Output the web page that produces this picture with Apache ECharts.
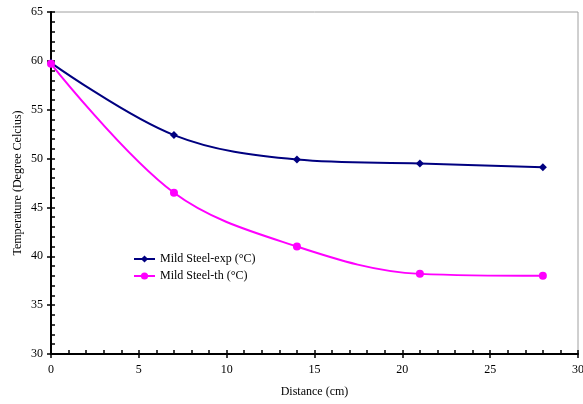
<!DOCTYPE html>
<html><head><meta charset="utf-8">
<script src="https://cdn.jsdelivr.net/npm/echarts@6/dist/echarts.min.js"></script>
<style>html,body{margin:0;padding:0;background:#fff}#c{width:583px;height:404px}</style>
</head><body><div id="c"></div>
<script>
const distance = [0, 7, 14, 21, 28];
const expTemps = [59.8, 52.4, 49.9, 49.5, 49.1];
const thTemps = [59.7, 46.5, 41.0, 38.2, 38.0];
const seriesNames = ['Mild Steel-exp (°C)', 'Mild Steel-th (°C)'];
const xTitle = 'Distance (cm)';
const yTitle = 'Temperature (Degree Celcius)';

const font = 'Liberation Serif, Times New Roman, serif';
const chart = echarts.init(document.getElementById('c'));
const pair = a => distance.map((d, i) => [d, a[i]]);
chart.setOption({
  animation: false,
  textStyle: {fontFamily: font},
  grid: {left: 51, top: 12, right: 5, bottom: 50, show: true, borderColor: '#a0a0a0', borderWidth: 1,
         containLabel: false, outerBoundsMode: 'none'},
  legend: {
    orient: 'vertical', left: 128, top: 248, itemGap: 5, itemWidth: 21, itemHeight: 9,
    textStyle: {fontFamily: font, fontSize: 12, color: '#000'},
    data: seriesNames
  },
  xAxis: [{
    type: 'value', min: 0, max: 30, interval: 5,
    name: xTitle, nameLocation: 'middle', nameGap: 32, nameMoveOverlap: false,
    nameTextStyle: {fontFamily: font, fontSize: 12, color: '#000'},
    axisLine: {lineStyle: {color: '#000', width: 2}},
    axisTick: {length: 4, lineStyle: {color: '#000', width: 1.5}},
    axisLabel: {fontFamily: font, fontSize: 12, color: '#000', margin: 10},
    splitLine: {show: false}
  }, {
    type: 'value', min: 0, max: 30, interval: 1, position: 'bottom',
    axisLine: {show: false}, axisLabel: {show: false},
    axisTick: {inside: true, length: 4, lineStyle: {color: '#000', width: 1.5}},
    splitLine: {show: false}
  }],
  yAxis: [{
    type: 'value', min: 30, max: 65, interval: 5,
    name: yTitle, nameLocation: 'middle', nameGap: 27, nameRotate: 90, nameMoveOverlap: false,
    nameTextStyle: {fontFamily: font, fontSize: 12, color: '#000'},
    axisLine: {lineStyle: {color: '#000', width: 2}},
    axisTick: {length: 4, lineStyle: {color: '#000', width: 1.5}},
    axisLabel: {fontFamily: font, fontSize: 12, color: '#000', margin: 8},
    splitLine: {show: false}
  }, {
    type: 'value', min: 30, max: 65, interval: 1, position: 'left',
    axisLine: {show: false}, axisLabel: {show: false},
    axisTick: {inside: true, length: 4, lineStyle: {color: '#000', width: 1.5}},
    splitLine: {show: false}
  }],
  series: [{
    name: seriesNames[0], type: 'line', smooth: 0.35, data: pair(expTemps),
    symbol: 'diamond', symbolSize: 8,
    itemStyle: {color: '#000080'}, lineStyle: {color: '#000080', width: 2}
  }, {
    name: seriesNames[1], type: 'line', smooth: 0.35, data: pair(thTemps),
    symbol: 'circle', symbolSize: 8,
    itemStyle: {color: '#ff00ff'}, lineStyle: {color: '#ff00ff', width: 2}
  }]
});
</script></body></html>
